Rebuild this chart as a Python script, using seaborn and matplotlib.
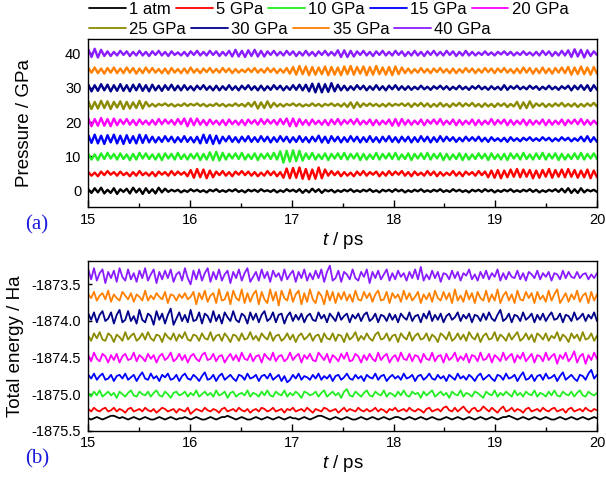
import numpy as np
import pandas as pd
import matplotlib
matplotlib.use("Agg")
import matplotlib.pyplot as plt
import seaborn as sns
from matplotlib.lines import Line2D
from matplotlib.ticker import MultipleLocator, FormatStrFormatter

# ---------------- data ----------------
series_labels = ["1 atm", "5 GPa", "10 GPa", "15 GPa", "20 GPa",
                 "25 GPa", "30 GPa", "35 GPa", "40 GPa"]
series_colors = ["#000000", "#ff0000", "#22ee22", "#0000ff", "#ff00ff",
                 "#8b8b00", "#00008b", "#ff8000", "#8a1cff"]

t_start, t_end = 15.0, 20.0

# panel (a): mean pressure (GPa) and fluctuations (in units of P_UNIT GPa)
p_levels = [0, 5, 10, 15, 20, 25, 30, 35, 40]
p_dev_0 = [3,-4,5,-3,6,-5,2,-4,5,-6,3,-2,4,-5,6,-3,4,-6,5,-4,3,-5,6,-3,4,-2,
           2,-1,2,-3,1,-2,3,-1,2,-2,1,-3,2,-1,3,-2,1,-2,2,-1,
           3,-2,1,-3,2,-1,2,-2,3,-1,1,-2,2,-3,1,-2,3,-1,2,-2,
           3,-4,2,-3,4,-2,3,-4,2,-1,2,-3,1,-2,2,-1,3,-2,1,-2,
           2,-1,3,-2,1,-3,2,-1,2,-2,3,-1,2,-3,1,-2,2,-1,3,-2,
           1,-2,2,-1,3,-2,1,-2,3,-1,2,-2,1,-3,2,-1,2,-2,3,-1,
           2,-3,1,-2,2,-1,3,-2,1,-2,2,-1,3,-2,2,-3,1,-2,2,-1,
           3,-2,4,-3,5,-4,3,-4,5,-3,2,-1,2,-2]
p_dev_5 = [3,-4,2,-5,4,-3,5,-2,3,-4,4,-3,2,-5,3,-4,5,-3,2,-4,3,-5,4,-2,3,-4,5,-3,4,-2,3,-5,
           7,-8,9,-7,8,-9,6,-7,
           4,-3,5,-4,3,-5,4,-2,5,-3,4,-4,3,-5,2,-4,5,-3,4,-5,3,
           -8,10,-9,11,-8,12,-10,9,-11,8,-10,12,-9,8,
           -4,5,-3,4,-5,3,-4,2,-5,4,-3,5,-4,3,-2,4,-5,3,-4,5,-3,4,-2,5,-4,
           3,-5,4,-3,2,-4,5,-3,4,-5,3,-4,2,-3,5,-4,3,-5,4,-2,3,-4,5,-3,4,
           -7,6,-8,7,-9,6,-7,8,-6,9,-7,8,-6,7,-9,6,-8,7,-6,9,-8,7,-6,8,-7,
           9,-6,7,-8,6,-7,8,-9,6,-7]
p_dev_10 = [5,-6,4,-7,6,-5,7,-4,5,-6,6,-5,4,-7,5,-6,7,-4,6,-5,
            4,-6,5,-7,6,-4,5,-6,7,-5,4,-6,5,-4,6,-7,5,-6,8,-7,
            9,-8,7,-6,5,-4,6,-5,7,-6,4,-5,6,-7,5,-4,6,-5,7,-6,
            10,-12,11,-10,12,-9,11,-8,6,-5,7,-6,4,-5,6,-7,5,-4,6,-5,
            7,-6,5,-4,6,-7,5,-6,4,-5,7,-6,5,-4,6,-5,7,-6,4,-5,
            6,-7,5,-4,6,-5,7,-6,5,-4,6,-7,5,-6,4,-5,6,-7,5,-6,
            4,-5,6,-4,5,-7,6,-5,4,-6,5,-7,6,-4,5,-6,7,-5,4,-6,
            6,-5,7,-6,5,-4,6,-7,5,-6,4,-5,6,-5,7,-6,5,-4,6,-5]
p_dev_15 = [8,-7,9,-8,7,-9,8,-6,9,-8,7,-9,8,-7,6,-8,9,-7,8,-6,
            5,-6,4,-5,6,-4,5,-6,4,-5,6,-5,4,-6,5,-8,9,-7,8,-9,
            7,-8,5,-4,6,-5,4,-6,5,-4,6,-5,4,-5,6,-4,5,-6,4,-5,
            6,-4,5,-6,4,-5,6,-5,4,-6,5,-4,7,-6,5,-7,6,-4,5,-6,
            4,-5,6,-4,5,-6,4,-5,6,-5,4,-6,5,-4,6,-5,4,-6,5,-4,
            5,-6,4,-5,6,-4,5,-6,4,-5,6,-4,5,-3,4,-5,3,-4,5,-3,
            4,-3,5,-4,3,-5,4,-3,2,-4,3,-5,4,-3,2,-4,3,-2,4,-3,
            2,-3,4,-2,3,-4,2,-3,4,-2,3,-4,2,-3,5,-4,6,-5,4,-5]
p_dev_20 = [7,-8,6,-7,8,-7,6,-8,7,-6,5,-4,6,-5,4,-6,5,-4,3,-5,
            4,-5,6,-4,5,-3,4,-5,6,-4,7,-8,7,-6,7,-5,4,-6,5,-4,
            3,-5,4,-6,5,-4,3,-5,4,-6,5,-3,4,-5,6,-4,5,-3,4,-5,
            6,-4,7,-8,7,-8,6,-5,4,-6,5,-4,3,-5,4,-6,5,-4,6,-5,
            4,-3,5,-4,6,-5,3,-4,5,-6,4,-5,3,-4,5,-7,6,-7,6,-5,
            4,-5,3,-4,5,-6,4,-3,5,-4,6,-5,3,-4,5,-6,4,-5,3,-4,
            5,-6,4,-5,3,-4,6,-5,4,-3,5,-6,4,-5,3,-4,5,-6,4,-5,
            3,-4,5,-6,4,-5,3,-4,5,-6,4,-3,5,-4,6,-5,4,-5,3,-4]
p_dev_25 = [7,-8,6,-7,8,-6,7,-8,6,-5,7,-8,6,-7,5,-6,8,-7,6,-3,
            2,-3,2,-1,3,-2,2,-3,1,-2,3,-2,2,-1,3,-2,2,-3,1,-2,
            3,-2,2,-3,1,-2,3,-2,2,-3,4,-3,6,-7,5,-6,7,-5,4,-3,
            2,-3,2,-1,3,-2,2,-3,1,-2,3,-2,2,-3,2,-1,3,-2,2,-3,
            3,-4,5,-6,5,-4,3,-2,3,-2,2,-3,2,-3,3,-2,2,-1,3,-2,
            3,-4,3,-2,4,-3,3,-4,2,-3,4,-3,2,-4,3,-2,4,-3,3,-2,
            4,-3,2,-4,3,-3,2,-4,3,-2,3,-4,2,-3,6,-7,5,-6,7,-5,
            3,-2,3,-4,2,-3,3,-2,4,-3,2,-3,3,-4,2,-3,3,-2,4,-3]
p_dev_30 = [6,-7,5,-6,7,-5,6,-7,5,-6,7,-6,5,-7,6,-5,7,-6,5,-7,
            6,-5,4,-6,5,-4,6,-5,4,-5,5,-4,3,-5,4,-3,5,-4,3,-5,
            4,-5,3,-4,5,-4,3,-5,4,-3,5,-4,3,-5,4,-5,3,-4,5,-3,
            4,-5,3,-4,5,-4,6,-5,6,-7,8,-9,8,-9,7,-8,9,-7,6,-5,
            4,-5,3,-4,5,-3,4,-5,3,-4,5,-4,3,-5,4,-3,5,-4,3,-4,
            3,-4,2,-3,4,-3,2,-4,3,-2,4,-3,3,-4,2,-3,4,-3,2,-4,
            3,-2,4,-3,2,-4,3,-3,2,-4,5,-4,3,-2,4,-3,2,-3,4,-2,
            3,-4,2,-3,4,-3,2,-4,3,-2,4,-5,4,-3,5,-4,5,-6,5,-4]
p_dev_35 = [5,-4,6,-5,4,-6,5,-4,6,-5,4,-5,6,-4,5,-6,4,-5,6,-4,
            5,-4,3,-5,4,-6,5,-4,3,-5,4,-5,6,-4,3,-5,4,-3,5,-4,
            3,-4,5,-3,4,-5,3,-4,2,-3,4,-3,5,-4,3,-4,5,-3,4,-5,
            3,-4,5,-6,7,-8,9,-7,8,-9,7,-8,6,-7,8,-9,7,-8,6,-9,
            8,-7,9,-8,7,-6,8,-9,7,-8,9,-7,6,-8,7,-9,8,-7,6,-5,
            4,-5,3,-4,5,-4,3,-5,4,-3,5,-4,3,-5,4,-5,3,-4,5,-3,
            4,-5,3,-4,5,-3,4,-5,4,-3,5,-4,3,-5,4,-5,6,-4,5,-6,
            4,-5,6,-5,4,-6,5,-4,6,-5,7,-8,6,-7,8,-7,6,-8,7,-6]
p_dev_40 = [8,-7,9,-8,7,-5,4,-5,3,-4,5,-3,4,-5,3,-4,5,-4,3,-5,
            4,-3,5,-4,3,-5,4,-3,2,-4,3,-5,4,-3,5,-4,3,-4,5,-3,
            4,-5,3,-4,5,-6,7,-6,5,-7,6,-5,7,-6,5,-6,4,-3,5,-4,
            3,-4,5,-3,4,-5,3,-4,5,-4,3,-5,4,-3,5,-4,3,-4,6,-7,
            6,-7,5,-6,4,-3,5,-4,3,-5,4,-3,5,-4,3,-4,5,-3,4,-5,
            3,-4,5,-4,3,-5,4,-3,5,-4,3,-4,5,-3,4,-5,3,-4,5,-4,
            3,-4,2,-3,4,-3,2,-4,3,-2,4,-3,3,-4,2,-3,4,-3,2,-4,
            3,-4,5,-3,4,-5,3,-4,5,-4,6,-7,8,-6,7,-8,6,-5,4,-3]

# panel (b): mean total energy (Ha) and fluctuations (in units of E_UNIT Ha)
e_levels = [-1875.33, -1875.22, -1875.00, -1874.77, -1874.50,
            -1874.22, -1873.95, -1873.67, -1873.38]
e_dev_0 = [0,-1,0,1,0,-1,0,1,2,2,1,0,1,0,-1,0,1,0,-1,0,
           1,0,-1,-1,0,1,0,-1,0,1,0,-1,0,0,1,0,-1,0,1,0,
           -1,-1,0,1,0,-1,0,1,1,2,1,0,-1,0,1,0,-1,-1,0,1,
           0,-1,0,1,0,-1,0,1,0,-1,0,1,0,0,-1,0,1,0,-1,0,
           1,2,2,1,0,-1,0,1,0,-1,0,1,0,-1,-1,0,1,0,-1,0,
           1,0,-1,0,1,0,-1,0,1,1,0,-1,0,1,0,-1,0,1,0,-1,
           0,1,0,-1,-1,0,1,0,-1,0,1,0,-1,0,1,0,-1,0,1,0,
           -1,0,1,0,-1,0,1,1,2,1,0,-1,0,1,0,-1,0,1,0,-1,
           0,1,0,-1,-1,0,1,0,-1,0,1,0,-1,0,1,0,-1,0,1,0]
e_dev_5 = [1,-1,2,0,-1,1,2,-1,0,2,-1,1,0,-2,1,2,-1,0,1,-1,
           2,0,-1,1,-2,0,2,1,-1,0,1,-2,1,0,-1,2,-3,-1,1,0,
           -1,2,0,-1,1,0,-2,1,2,-1,0,1,-1,2,0,-1,1,-2,0,1,
           -1,2,1,-1,0,2,-1,0,1,-2,1,0,2,-1,0,1,-1,2,0,-2,
           1,0,-1,2,1,-1,0,1,-2,0,2,-1,1,0,-1,2,0,-1,1,-1,
           0,2,-1,1,0,-2,1,0,2,-1,0,1,-1,2,0,-1,1,0,-2,1,
           2,-1,0,1,-1,2,3,0,-1,2,-1,1,3,0,-2,1,2,-1,0,3,
           1,-1,2,0,-2,1,3,-1,0,2,-1,1,0,-2,1,2,-1,0,1,-1,
           2,0,-1,1,2,-1,0,1,-2,1,2,-1,0,1,-1,2,0,-1,1,0]
e_dev_10 = [1,-2,2,-1,3,-2,0,2,-1,1,-3,2,0,-2,1,3,-1,-2,2,0,
            -1,2,-2,1,3,-1,-2,2,0,-3,1,2,-1,0,2,-2,1,-1,3,-2,
            0,2,-1,1,-2,3,-1,0,2,-3,1,2,-2,0,1,-1,3,-2,1,0,
            -2,2,-1,3,-1,-2,2,0,-1,3,-2,1,-1,2,0,-3,2,1,-1,0,
            2,-2,1,3,-2,0,2,-1,1,-3,2,4,-1,-2,2,0,-2,1,3,-1,
            -2,2,0,-1,3,-2,1,0,-2,2,-1,3,-1,-2,2,0,1,-3,2,-1,
            1,3,-2,0,2,-1,1,-3,2,0,-1,3,-2,1,0,-2,2,1,-1,-3,
            2,0,-1,3,-2,1,-1,2,0,-2,3,-1,1,-2,2,0,-1,3,-2,1,
            0,-2,2,-1,3,-1,-2,2,0,-1,2,-2,1,3,-1,-2,2,0,-1,1]
e_dev_15 = [2,-1,3,-2,1,3,-2,-1,2,-3,1,2,-1,3,-2,0,2,-3,1,4,
            -1,-2,3,-1,1,-3,2,0,3,-2,-1,2,-3,1,3,-1,-2,2,0,-3,
            1,4,-2,-1,2,-3,1,3,-2,0,2,-1,-3,2,1,-2,3,-1,0,2,
            -3,1,2,-1,3,-2,0,2,-3,1,-4,-2,2,-1,3,-2,1,0,-2,2,
            -1,3,-2,1,-1,2,-3,1,2,-2,0,3,-1,-2,2,-1,1,-3,2,0,
            -1,3,-2,1,2,-3,0,2,-1,1,-2,3,-1,0,2,-3,1,2,-2,0,
            3,-1,-2,2,-1,1,-3,2,0,-2,3,-1,1,-2,2,0,-3,1,3,-2,
            0,2,-1,-3,2,1,-2,3,-1,0,2,-3,1,4,-2,-1,2,-3,1,2,
            -2,3,-1,0,2,-3,1,4,-2,0,2,-1,-3,2,1,-2,3,6,-1,2]
e_dev_20 = [2,-3,4,-1,-3,3,1,-4,2,-2,3,-4,1,3,-2,-1,4,-3,2,0,
            -3,3,-1,2,-4,1,3,-2,0,4,-3,-1,3,-2,2,-4,1,3,-1,-3,
            2,4,-2,-1,3,-3,1,2,-4,0,3,-2,2,-3,4,-1,-2,3,-3,1,
            2,-4,3,0,-2,4,-3,1,2,-3,-1,4,-2,1,3,-4,2,-1,3,-2,
            -3,4,1,-2,3,-4,2,0,-3,3,-1,4,-3,-2,3,1,-4,2,-2,3,
            -1,-3,4,-2,1,3,-4,0,2,-3,4,-1,-2,3,-3,2,1,-4,3,-1,
            -2,4,-3,1,2,-4,3,-2,0,4,-3,1,-2,3,-4,2,1,-3,4,-2,
            -1,3,-4,2,0,-3,4,-2,1,3,-4,2,-1,4,-3,0,3,-4,2,1,
            -3,4,-2,1,3,-5,2,-1,4,-3,0,5,-4,1,3,-5,2,-2,4,-1]
e_dev_25 = [1,-3,3,-1,4,-2,-3,3,1,-4,2,0,-3,4,-2,1,3,-3,-1,3,
            -2,4,-1,-3,2,1,-4,3,0,-2,3,-3,2,-1,4,-2,-3,2,1,-3,
            3,-1,-2,4,-3,1,2,-3,3,0,-4,2,1,-3,3,-2,-1,4,-2,1,
            -3,3,0,-2,4,-3,1,2,-3,-1,3,-2,2,-4,1,3,-2,0,3,-3,
            1,2,-4,3,-1,-2,3,-3,2,1,-4,3,-2,0,4,-3,1,-2,3,-1,
            -3,2,4,-2,-1,3,-3,1,2,-4,3,0,-2,4,-3,1,3,-2,-1,3,
            -3,2,0,-4,3,1,-2,4,-3,-1,3,-2,2,-3,4,0,-2,3,-4,1,
            3,-2,-1,4,-3,2,0,-3,3,-2,1,4,-3,-1,3,-2,2,-4,3,1,
            -2,3,-3,1,-1,4,-3,2,0,-4,3,-1,2,-3,4,-2,-1,3,-3,1]
e_dev_30 = [3,-2,4,-4,2,5,-3,-1,4,-5,2,6,-4,-2,5,-3,1,-5,6,-2,
            -4,3,1,-6,5,-2,3,-5,2,7,-6,-1,4,-3,2,-4,6,-3,-2,4,
            -5,3,1,-4,5,-3,2,-5,4,0,-3,5,-2,-4,3,1,-5,4,-2,3,
            -4,2,5,-3,-1,4,-4,2,3,-5,1,4,-3,2,-2,3,-4,1,3,-2,
            -3,4,-1,2,-4,3,0,-3,4,-2,1,3,-4,2,-1,3,-3,2,4,-3,
            -1,3,-4,2,1,-3,3,-2,2,-4,3,0,-2,4,-3,1,2,-4,3,-1,
            5,-3,2,-2,3,-4,1,3,-2,0,4,-3,2,-1,3,-4,2,1,-3,3,
            -2,4,-1,-3,2,6,-3,-1,3,-4,2,1,-3,4,-2,0,3,-4,2,-2,
            3,-3,1,4,-2,-1,3,-4,2,1,-3,4,-2,0,3,-3,2,-1,4,-3]
e_dev_35 = [2,-1,4,-3,1,3,-2,5,-4,2,-1,-3,4,1,-2,3,-4,2,0,-3,
            5,-3,1,-2,3,0,-2,4,-5,2,1,-3,2,-1,3,-2,0,4,-6,3,
            -2,5,-4,1,3,-5,6,-3,-2,4,-6,5,-1,-3,6,-5,3,-4,2,5,
            -6,4,-2,-5,6,-3,4,-7,5,-1,-3,6,-4,2,5,-6,3,-4,6,-2,
            -5,4,1,-6,5,-3,4,-5,3,-2,4,-3,2,-4,5,-2,-3,4,-1,3,
            -4,2,5,-3,-2,4,-5,3,-1,2,-4,5,-2,3,-3,0,4,-5,2,-2,
            3,-4,5,-1,-3,4,-2,3,-5,6,-3,1,-4,5,-2,3,-5,4,-1,-3,
            5,-4,2,-3,6,-5,1,4,-3,2,-5,5,-2,-3,4,-1,3,-5,4,-2,
            1,-4,5,-3,2,6,-5,-1,3,-4,2,-2,5,-4,1,3,-5,4,-3,2]
e_dev_40 = [5,-3,6,-4,2,5,-6,3,-2,4,-5,6,-1,-4,5,-3,2,-5,4,-2,
            6,-4,1,5,-6,3,-3,4,-2,5,-5,1,3,-4,6,-2,-7,4,-3,5,
            -4,2,6,-5,3,-3,5,-4,1,4,-6,3,-2,5,-4,2,6,-5,-1,3,
            -4,5,-2,3,-5,4,-1,2,-4,5,-3,1,4,-5,3,-2,5,-4,2,-3,
            4,-2,5,-5,3,8,-4,-2,4,-5,3,1,-3,5,-2,-4,3,-1,5,-6,
            3,-2,4,-3,1,5,-4,2,-3,4,-1,2,-4,3,-2,5,-3,7,-4,1,
            -3,4,-2,3,-5,2,1,-3,4,-2,3,-4,2,0,5,-3,1,-4,3,-2,
            4,-3,2,-1,5,-4,2,-3,3,-1,-2,4,-3,2,-4,3,1,-2,4,-3,
            2,-1,3,-4,2,1,-3,4,-2,3,-1,-2,3,-2,1,2,-3,1,-2,2]

p_devs = [p_dev_0, p_dev_5, p_dev_10, p_dev_15, p_dev_20,
          p_dev_25, p_dev_30, p_dev_35, p_dev_40]
e_devs = [e_dev_0, e_dev_5, e_dev_10, e_dev_15, e_dev_20,
          e_dev_25, e_dev_30, e_dev_35, e_dev_40]
P_UNIT = 0.15    # GPa per fluctuation unit
E_UNIT = 0.017   # Ha per fluctuation unit

p_ticks = [0, 10, 20, 30, 40]
e_ticks = [-1875.5, -1875.0, -1874.5, -1874.0, -1873.5]
x_ticks = [15, 16, 17, 18, 19, 20]


def build_frame(levels, devs, unit):
    frames = []
    for lab, lev, dev in zip(series_labels, levels, devs):
        d = np.asarray(dev, dtype=float)
        t = np.linspace(t_start, t_end, len(d))
        frames.append(pd.DataFrame({"t": t, "val": lev + d * unit, "series": lab}))
    return pd.concat(frames, ignore_index=True)


df_p = build_frame(p_levels, p_devs, P_UNIT)
df_e = build_frame(e_levels, e_devs, E_UNIT)

# ---------------- style ----------------
sns.set_theme(style="white")
plt.rcParams["font.family"] = ["Liberation Sans", "DejaVu Sans"]
plt.rcParams["mathtext.fontset"] = "custom"
plt.rcParams["mathtext.it"] = "Liberation Sans:italic"
plt.rcParams["mathtext.rm"] = "Liberation Sans"
plt.rcParams["axes.unicode_minus"] = False
for k in ["text.color", "axes.labelcolor", "xtick.color", "ytick.color", "axes.edgecolor"]:
    plt.rcParams[k] = "black"

palette = dict(zip(series_labels, series_colors))

fig = plt.figure(figsize=(6.06, 4.79), dpi=100)
axA = fig.add_axes([0.1457, 0.5672, 0.8394, 0.3507])
axB = fig.add_axes([0.1457, 0.1008, 0.8394, 0.3543])

sns.lineplot(data=df_p, x="t", y="val", hue="series", hue_order=series_labels,
             palette=palette, estimator=None, sort=False, lw=1.7,
             legend=False, ax=axA)
sns.lineplot(data=df_e, x="t", y="val", hue="series", hue_order=series_labels,
             palette=palette, estimator=None, sort=False, lw=1.3,
             legend=False, ax=axB)

for ax in (axA, axB):
    ax.set_xlim(t_start, t_end)
    ax.set_xticks(x_ticks)
    ax.xaxis.set_minor_locator(MultipleLocator(0.5))
    ax.tick_params(axis="x", which="major", direction="in", length=5, width=1,
                   labelsize=10.5, pad=4, bottom=True, top=False)
    ax.tick_params(axis="x", which="minor", direction="in", length=3, width=1,
                   bottom=True, top=False)
    ax.tick_params(axis="y", which="major", direction="in", length=3, width=1,
                   labelsize=10.5, pad=5, left=True, right=False)
    for s in ax.spines.values():
        s.set_visible(True)
        s.set_color("black")
        s.set_linewidth(1.0)
    ax.grid(False)
    ax.set_xlabel("$t$ / ps", fontsize=13.5, labelpad=2)

axA.set_ylim(-4.8, 44.1)
axA.set_yticks(p_ticks)
axA.set_ylabel("Pressure / GPa", fontsize=13.5)
axA.yaxis.set_label_coords(-0.108, 0.5)

axB.set_ylim(-1875.5, -1873.18)
axB.set_yticks(e_ticks)
axB.yaxis.set_major_formatter(FormatStrFormatter("%.1f"))
axB.set_ylabel("Total energy / Ha", fontsize=13.5)
axB.yaxis.set_label_coords(-0.127, 0.5)

# legend in two free-flowing rows above panel (a)
handles = [Line2D([], [], color=c, lw=1.3) for c in series_colors]
leg_kw = dict(loc="center left", frameon=False, fontsize=12, handlelength=2.2,
              handletextpad=0.2, columnspacing=0.3, borderpad=0, borderaxespad=0)
fig.legend(handles[:5], series_labels[:5], ncol=5,
           bbox_to_anchor=(89.3 / 606, 1 - 9.5 / 479), **leg_kw)
fig.legend(handles[5:], series_labels[5:], ncol=4,
           bbox_to_anchor=(89.3 / 606, 1 - 29 / 479), **leg_kw)

fig.text(36.7 / 606, 1 - 225 / 479, "(a)", color="#1a1adc", fontsize=15,
         family=["Liberation Serif", "DejaVu Serif"], ha="center", va="center")
fig.text(36.7 / 606, 1 - 458.5 / 479, "(b)", color="#1a1adc", fontsize=15,
         family=["Liberation Serif", "DejaVu Serif"], ha="center", va="center")

fig.savefig("out.png", dpi=100)
